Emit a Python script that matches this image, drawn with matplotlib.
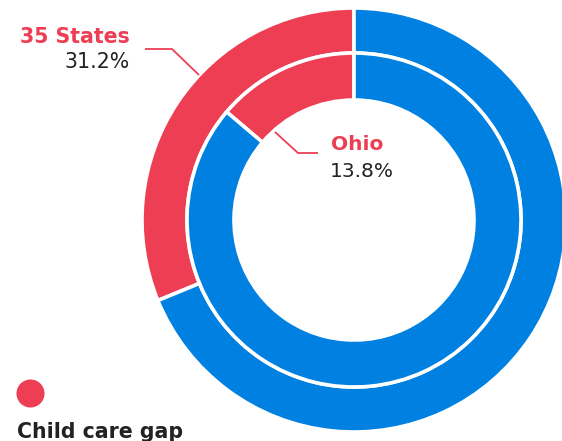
import matplotlib.pyplot as plt
import numpy as np

# Datos
anillos = ['35 States', 'Ohio']
brecha = [31.2, 13.8]          # % child care gap
rojo = '#ED3E54'
azul = '#0080E0'
oscuro = '#222222'

plt.rcParams['font.family'] = ['DejaVu Sans']

fig = plt.figure(figsize=(5.62, 4.41), dpi=100)
ax = fig.add_axes([0, 0, 1, 1])

# centro y radios en pixeles (y desde abajo)
cx, cy = 354, 221
r_ext, r_int, r_hueco = 212, 167, 120

ax.pie([brecha[0], 100 - brecha[0]], radius=r_ext, center=(cx, cy), startangle=90,
       colors=[rojo, azul],
       wedgeprops=dict(width=r_ext - r_int, edgecolor='white', linewidth=2.6))
ax.pie([brecha[1], 100 - brecha[1]], radius=r_int, center=(cx, cy), startangle=90,
       colors=[rojo, azul],
       wedgeprops=dict(width=r_int - r_hueco, edgecolor='white', linewidth=2.6))

ax.set_xlim(0, 562)
ax.set_ylim(0, 441)
ax.set_aspect('auto')
ax.axis('off')

# etiquetas
H = 441
ax.text(130, H - 43, anillos[0], ha='right', va='baseline', fontsize=14.8,
        fontweight='bold', color=rojo)
ax.text(130, H - 68, f'{brecha[0]}%', ha='right', va='baseline', fontsize=14.8,
        color=oscuro)
ax.plot([145, 172, 199], [H - 49, H - 49, H - 75], color=rojo, lw=1.3,
        solid_capstyle='butt')

ax.text(331, H - 150, anillos[1], ha='left', va='baseline', fontsize=14.5,
        fontweight='bold', color=rojo)
ax.text(330, H - 177, f'{brecha[1]}%', ha='left', va='baseline', fontsize=14.5,
        color=oscuro)
ax.plot([275, 298, 318], [H - 132, H - 153, H - 153], color=rojo, lw=1.3,
        solid_capstyle='butt')

# leyenda
ax.scatter([30], [H - 393], s=28 ** 2 * 0.52, color=rojo, marker='o', linewidths=0)
ax.text(17, H - 438, 'Child care gap', ha='left', va='baseline', fontsize=14.8,
        fontweight='bold', color=oscuro)

fig.savefig('out.png', dpi=100)
